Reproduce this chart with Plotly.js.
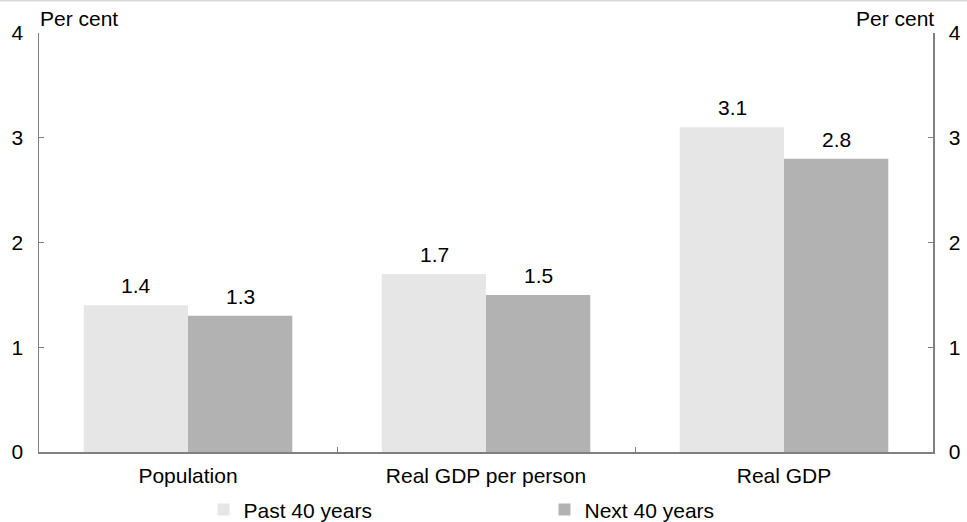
<!DOCTYPE html>
<html>
<head>
<meta charset="utf-8">
<script src="https://cdn.plot.ly/plotly-3.0.1.min.js"></script>
<style>html,body{margin:0;padding:0;background:#fff;}#chart{width:967px;height:522px;}</style>
</head>
<body>
<div id="chart"></div>
<script>
const categories = ["Population", "Real GDP per person", "Real GDP"];
const pastValues = [1.4, 1.7, 3.1];
const nextValues = [1.3, 1.5, 2.8];
const seriesNames = ["Past 40 years", "Next 40 years"];
const yTicks = [0, 1, 2, 3, 4];
const unitLabel = "Per cent";

const FONT = "Arial, 'Liberation Sans', sans-serif";
const FS = 21;
const barOffset = 52;

const traces = [
  {type: "bar", name: seriesNames[0], x: categories, y: pastValues,
   marker: {color: "#E6E6E6"}, hoverinfo: "none"},
  {type: "bar", name: seriesNames[1], x: categories, y: nextValues,
   marker: {color: "#B2B2B2"}, hoverinfo: "none"},
  {type: "scatter", x: categories, y: pastValues, yaxis: "y2", mode: "none",
   showlegend: false, hoverinfo: "none"}
];

const annotations = [];
categories.forEach((c, i) => {
  annotations.push({x: c, y: pastValues[i], xref: "x", yref: "y", text: pastValues[i].toFixed(1),
    showarrow: false, yanchor: "bottom", xshift: -barOffset, yshift: 6,
    font: {family: FONT, size: FS, color: "#000"}});
  annotations.push({x: c, y: nextValues[i], xref: "x", yref: "y", text: nextValues[i].toFixed(1),
    showarrow: false, yanchor: "bottom", xshift: barOffset, yshift: 6,
    font: {family: FONT, size: FS, color: "#000"}});
});
annotations.push({x: 0, y: 1, xref: "paper", yref: "paper", xanchor: "left", yanchor: "bottom",
  yshift: 1, xshift: -1, text: unitLabel, showarrow: false, font: {family: FONT, size: FS, color: "#000"}});
annotations.push({x: 1, y: 1, xref: "paper", yref: "paper", xanchor: "right", yanchor: "bottom",
  yshift: 1, xshift: 3, text: unitLabel, showarrow: false, font: {family: FONT, size: FS, color: "#000"}});

const axisY = {
  range: [0, 4], tickvals: yTicks, ticks: "inside", ticklen: 5, tickcolor: "#808080",
  showline: true, linecolor: "#808080", linewidth: 1.5, showgrid: false, zeroline: false,
  tickfont: {family: FONT, size: FS, color: "#000"}, fixedrange: true, ticklabelstandoff: 10
};

const layout = {
  width: 967, height: 522,
  margin: {l: 39, r: 34, t: 33, b: 70, autoexpand: false},
  paper_bgcolor: "#fff", plot_bgcolor: "#fff",
  font: {family: FONT, size: FS, color: "#000"},
  barmode: "group", bargap: 0.3, bargroupgap: 0,
  showlegend: true,
  legend: {orientation: "h", x: 0.184, xanchor: "left", y: -0.138, yanchor: "middle",
    entrywidth: 296, entrywidthmode: "pixels", itemwidth: 30, tracegroupgap: 0,
    font: {family: FONT, size: FS, color: "#000"}},
  xaxis: {type: "category", showline: true, linecolor: "#808080", linewidth: 1.5,
    ticks: "inside", tickson: "boundaries", ticklen: 5, tickcolor: "#808080",
    showgrid: false, tickfont: {family: FONT, size: FS, color: "#000"}, fixedrange: true,
    ticklabelstandoff: 4},
  yaxis: Object.assign({}, axisY, {side: "left"}),
  yaxis2: Object.assign({}, axisY, {side: "right", overlaying: "y"}),
  annotations: annotations,
  shapes: [{type: "line", xref: "paper", yref: "paper", x0: -0.05, x1: 1.05, y0: 1.0776, y1: 1.0776,
    line: {color: "#d9d9d9", width: 2}}]
};

Plotly.newPlot("chart", traces, layout, {displayModeBar: false, staticPlot: true});
</script>
</body>
</html>
